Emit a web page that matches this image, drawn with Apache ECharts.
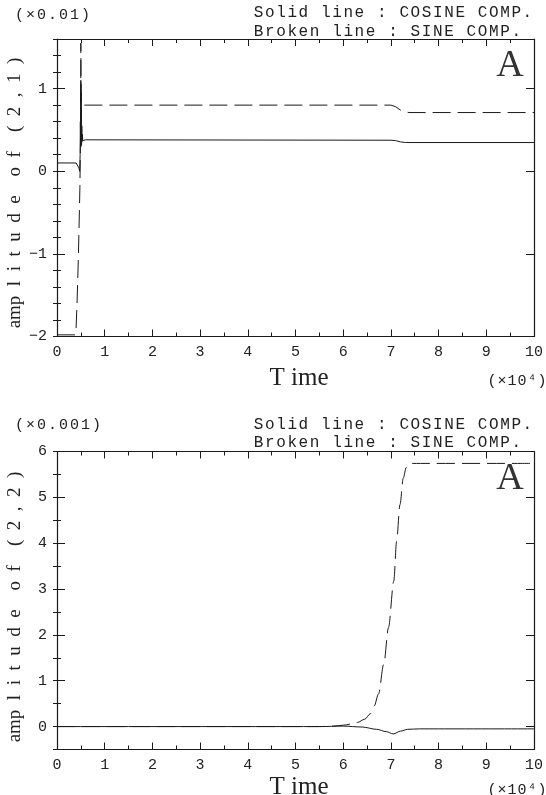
<!doctype html>
<html>
<head>
<meta charset="UTF-8">
<title>amplitude of (2,1) / (2,2)</title>
<script src="https://cdn.jsdelivr.net/npm/echarts@6/dist/echarts.min.js"></script>
<style>
  html, body { margin: 0; padding: 0; background: #fff; }
  #chart { width: 546px; height: 795px; }
</style>
</head>
<body>
<div id="chart"></div>
<script>
// --- data (time in units of 10^4) ---
// upper panel: amplitude of (2,1), x0.01
const cosT21 = [0, 0.40, 0.44, 0.46, 0.475, 0.485, 0.49, 0.495, 0.50, 0.503, 0.506, 0.509, 0.512, 0.515, 0.52, 0.525, 0.53, 0.54, 0.56, 0.6, 7.0, 7.1, 7.2, 7.3, 7.4, 10];
const cos21  = [0.10, 0.10, 0.09, 0.04, 0.00, 0.20, 0.60, 0.30, 1.10, 0.30, 0.95, 0.35, 0.75, 0.32, 0.55, 0.36, 0.45, 0.37, 0.39, 0.38, 0.375, 0.37, 0.355, 0.348, 0.347, 0.347];
const sinT21 = [0, 0.38, 0.40, 0.42, 0.45, 0.48, 0.495, 0.50, 0.505, 0.51, 0.52, 0.55, 7.0, 7.1, 7.2, 7.3, 7.4, 10];
const sin21  = [-1.98, -1.98, -1.9, -1.6, -1.0, -0.2, 0.5, 1.55, 1.0, 0.80, 0.80, 0.80, 0.80, 0.78, 0.74, 0.715, 0.71, 0.71];

// lower panel: amplitude of (2,2), x0.001
const cosT22 = [0, 5.5, 6.0, 6.4, 6.7, 6.9, 7.05, 7.2, 7.35, 7.6, 8, 10];
const cos22  = [0, 0, 0.01, -0.01, -0.06, -0.11, -0.16, -0.10, -0.06, -0.05, -0.05, -0.05];
const sinT22 = [0, 5.5, 5.8, 6.0, 6.2, 6.3, 6.45, 6.57, 6.65, 6.74, 6.85, 6.95, 7.06, 7.12, 7.19, 7.26, 7.32, 7.37, 7.45, 10];
const sin22  = [0, 0, 0.01, 0.03, 0.06, 0.09, 0.16, 0.28, 0.45, 0.71, 1.36, 2.16, 3.17, 4.04, 4.84, 5.42, 5.65, 5.72, 5.74, 5.74];

const timeTicks = [0, 1, 2, 3, 4, 5, 6, 7, 8, 9, 10];
const yTicks21 = [-2, -1, 0, 1];
const yTicks22 = [0, 1, 2, 3, 4, 5, 6];

const ink = '#1a1a1a';
const mono = '"Liberation Mono", "DejaVu Sans Mono", monospace';
const serif = '"Liberation Serif", "DejaVu Serif", serif';

function pairs(xs, ys) {
  return xs.map((x, i) => [x, ys[i]]);
}

// monospace text drawn with wide letter spacing, one glyph per cell
function spaced(str, left, y, step, size) {
  return {
    type: 'group',
    children: Array.from(str).map((ch, i) => ({
      type: 'text',
      x: left + i * step + step / 2,
      y: y,
      style: { text: ch, font: size + 'px ' + mono, fill: '#222', align: 'center', verticalAlign: 'middle' }
    }))
  };
}

function xAxes(gridIndex) {
  const base = {
    gridIndex: gridIndex, type: 'value', min: 0, max: 10, interval: 1,
    splitLine: { show: false },
    axisLine: { onZero: false, lineStyle: { color: ink, width: 1.2 } },
    axisTick: { inside: true, length: 7, lineStyle: { color: ink } },
    minorTick: { show: true, splitNumber: 2, length: 4, lineStyle: { color: ink } },
    minorSplitLine: { show: false }
  };
  return [
    Object.assign({}, base, {
      position: 'bottom',
      axisLabel: { margin: 8, fontFamily: mono, fontSize: 15, color: '#222', customValues: timeTicks }
    }),
    Object.assign({}, base, { position: 'top', axisLabel: { show: false } })
  ];
}

function yAxes(gridIndex, min, max, majors, minorStep) {
  const line = { onZero: false, lineStyle: { color: ink, width: 1.2 } };
  const out = [];
  ['left', 'right'].forEach(pos => {
    out.push({
      gridIndex: gridIndex, type: 'value', position: pos, min: min, max: max,
      splitLine: { show: false },
      axisLine: line,
      axisTick: { inside: true, length: 8, lineStyle: { color: ink }, customValues: majors },
      axisLabel: pos === 'left'
        ? { margin: 10, fontFamily: mono, fontSize: 15, color: '#222', customValues: majors,
            formatter: v => String(v).replace('-', '\u2212') }
        : { show: false }
    });
    out.push({
      gridIndex: gridIndex, type: 'value', position: pos, min: min, max: max, interval: minorStep,
      splitLine: { show: false },
      axisLine: { show: false },
      axisTick: { inside: true, length: 4, lineStyle: { color: ink } },
      axisLabel: { show: false }
    });
  });
  return out;
}

const solid = { color: ink, width: 1 };
const broken = { color: ink, width: 1, type: [18, 7] };

const chart = echarts.init(document.getElementById('chart'));
chart.setOption({
  animation: false,
  backgroundColor: '#fff',
  grid: [
    { left: 57, top: 39, width: 481, height: 297.5, containLabel: false },
    { left: 57, top: 451.5, width: 481, height: 298, containLabel: false }
  ],
  xAxis: xAxes(0).concat(xAxes(1)),
  yAxis: yAxes(0, -2, 1.6, yTicks21, 0.2).concat(yAxes(1, -0.5, 6, yTicks22, 0.5)),
  series: [
    { type: 'line', xAxisIndex: 0, yAxisIndex: 0, showSymbol: false, data: pairs(cosT21, cos21), lineStyle: solid },
    { type: 'line', xAxisIndex: 0, yAxisIndex: 0, showSymbol: false, data: pairs(sinT21, sin21), lineStyle: broken },
    { type: 'line', xAxisIndex: 2, yAxisIndex: 4, showSymbol: false, smooth: 0.3, smoothMonotone: 'x', data: pairs(cosT22, cos22), lineStyle: solid },
    { type: 'line', xAxisIndex: 2, yAxisIndex: 4, showSymbol: false, smooth: 0.3, smoothMonotone: 'x', data: pairs(sinT22, sin22), lineStyle: broken }
  ],
  graphic: [
    // upper panel texts
    spaced('(\u00d70.01)', 14, 15, 11, 15),
    spaced('Solid line : COSINE COMP.', 253, 13, 11.2, 16),
    spaced('Broken line : SINE COMP.', 253, 32, 11.2, 16),
    spaced('(\u00d710\u2074)', 487, 381, 10, 15),
    { type: 'text', x: 299, y: 378, style: { text: 'T ime', font: '25px ' + serif, fill: '#222', align: 'center', verticalAlign: 'middle' } },
    { type: 'text', x: 510, y: 66, style: { text: 'A', font: '38px ' + serif, fill: '#333', align: 'center', verticalAlign: 'middle' } },
    { type: 'text', x: 15, y: 193, rotation: Math.PI / 2,
      style: { text: 'amp\u2002l\u2002i\u2002t\u2002u\u2002d\u2002e\u2002\u2002o\u2002f\u2002\u2002(\u20022\u2002,\u20021\u2002)', font: '19px ' + serif, fill: '#222', align: 'center', verticalAlign: 'middle' } },
    // lower panel texts
    spaced('(\u00d70.001)', 14, 425, 11, 15),
    spaced('Solid line : COSINE COMP.', 253, 425, 11.2, 16),
    spaced('Broken line : SINE COMP.', 253, 443, 11.2, 16),
    spaced('(\u00d710\u2074)', 487, 790, 10, 15),
    { type: 'text', x: 299, y: 787, style: { text: 'T ime', font: '25px ' + serif, fill: '#222', align: 'center', verticalAlign: 'middle' } },
    { type: 'text', x: 510, y: 479, style: { text: 'A', font: '38px ' + serif, fill: '#333', align: 'center', verticalAlign: 'middle' } },
    { type: 'text', x: 15, y: 607, rotation: Math.PI / 2,
      style: { text: 'amp\u2002l\u2002i\u2002t\u2002u\u2002d\u2002e\u2002\u2002o\u2002f\u2002\u2002(\u20022\u2002,\u20022\u2002)', font: '19px ' + serif, fill: '#222', align: 'center', verticalAlign: 'middle' } }
  ]
});
</script>
</body>
</html>
